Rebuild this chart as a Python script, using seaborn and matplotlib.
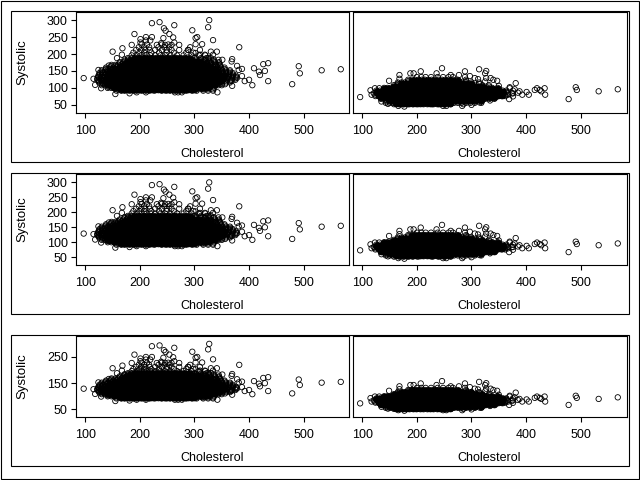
# coding: utf-8
import pandas as pd
import matplotlib
matplotlib.use("Agg")
import matplotlib.pyplot as plt
from matplotlib.patches import Rectangle
import seaborn as sns

# Isolated points, left panels
sparse_chol_sys = [97,150,158,168,167,190,185,201,201,211,211,219,222,222,236,244,247,263,254,261,243,239,296,302,305,327,325,334,382,314,302,310,302,330,341,292,289,263,272,258,246,231,310,319,334,325,344,351,369,368,378,387,381,409,426,435,418,429,420,435,392,400,406,387,378,369,368,342,491,493,479,533,568,155,181,129,118,115,124,143,270,277,264,194,211,301,314,328,356,347,359,124,124,133,143]
sparse_sys = [129,207,188,217,198,259,227,244,234,250,240,240,250,291,294,276,269,285,259,249,247,232,270,247,250,300,279,241,220,229,229,212,203,207,207,220,212,234,227,227,227,227,198,198,198,188,183,183,185,178,165,156,153,158,170,173,148,150,138,120,120,124,108,135,130,106,121,87,164,143,111,152,155,82,84,99,109,127,153,166,87,87,87,87,87,97,97,102,111,119,129,133,123,114,104]

# Isolated points, right panels
sparse_chol_dia = [96,115,123,131,117,149,168,168,188,194,207,246,236,262,277,288,288,314,327,325,327,335,340,347,350,381,370,379,388,393,401,405,416,420,425,434,435,428,478,491,493,533,568,369,376,300,283,254,248,177,166,147,135,334,315,367,376,376,370,385,297,306,312,325]
sparse_dia = [73,93,99,99,80,121,138,127,143,143,149,158,143,138,138,149,132,155,150,143,129,129,124,121,106,114,102,96,90,80,88,80,94,99,94,99,80,90,67,102,94,90,96,67,75,50,47,47,47,45,47,53,60,63,57,80,84,92,99,86,135,129,126,119]

# Dense cloud, cholesterol values read along each systolic level
chol_s92 = [157,166,172,181,188,194,203,211,217,226,240,248,255,263,270,279,285,296,304,316,325,334]
chol_s100 = [141,148,153,159,165,170,176,182,187,193,199,204,210,216,221,227,233,238,244,249,255,261,266,272,277,283,289,294,300,306,311,317,323,328,336]
chol_s108 = [130,136,142,147,153,158,164,169,175,181,186,192,197,203,209,214,220,225,231,237,242,248,253,259,265,270,276,281,287,293,298,304,309,315,321,326,332,337,344,350]
chol_s116 = [125,131,137,143,148,154,160,165,171,176,182,188,193,199,204,210,216,221,227,232,238,244,249,255,260,266,272,277,283,288,294,300,305,311,316,322,328,333,339,345,351,358,365]
chol_s124 = [122,128,134,139,145,150,156,162,167,173,178,184,190,195,201,206,212,218,223,229,234,240,246,251,257,262,268,274,279,285,290,296,302,307,313,318,324,330,335,341,347,353,360,368,375]
chol_s132 = [124,130,136,141,147,153,158,164,169,175,181,186,192,197,203,209,214,220,225,231,237,242,248,253,259,265,270,276,281,287,293,298,304,309,315,321,326,332,338,344,350,356,363,370,376]
chol_s140 = [126,132,138,143,149,154,160,166,171,177,182,188,194,199,205,210,216,222,227,233,238,244,250,255,261,266,272,278,283,289,294,300,306,311,317,322,328,334,340,346,352,358,364,370]
chol_s148 = [130,136,141,147,153,158,164,169,175,181,186,192,197,203,209,214,220,225,231,237,242,248,253,259,265,270,276,281,287,293,298,304,309,315,321,326,332,338,344,351,358,365]
chol_s156 = [138,145,151,156,162,167,173,179,184,190,195,201,207,212,218,223,229,235,240,246,251,257,263,268,274,279,285,291,296,302,307,313,319,324,330,336,342,349,355]
chol_s164 = [148,155,160,166,171,177,183,188,194,199,205,211,216,222,227,233,239,244,250,255,261,267,272,278,283,289,295,300,306,311,317,323,328,334,340,347]
chol_s172 = [163,169,175,180,186,192,197,203,208,214,220,225,231,236,242,248,253,259,264,270,276,281,287,292,298,304,310,316,323,330,338,345]
chol_s180 = [172,178,183,189,195,200,206,211,217,223,228,234,239,245,251,256,262,267,273,279,284,290,296,303,311,319,327,335]
chol_s188 = [178,185,191,196,202,208,213,219,224,230,236,241,247,252,258,264,269,275,282,291,300,312,322,330]
chol_s196 = [185,194,203,212,219,228,238,246,256,268,280,295,308,320]
chol_s204 = [188,199,208,221,235,249,262,285,298]
chol_s212 = [193,203,210,218,228,240,249,258,272,288]
chol_s220 = [198,208,217,234,245,254]
chol_s228 = [203,213,240,252]

sys_levels = [92,100,108,116,124,132,140,148,156,164,172,180,188,196,204,212,220,228,
              96,104,112,120,128,136,144,152,160,168,176,184]
sys_rows = [chol_s92,chol_s100,chol_s108,chol_s116,chol_s124,chol_s132,chol_s140,chol_s148,chol_s156,chol_s164,chol_s172,chol_s180,chol_s188,chol_s196,chol_s204,chol_s212,chol_s220,chol_s228,
            chol_s92,chol_s100,chol_s108,chol_s116,chol_s124,chol_s132,chol_s140,chol_s148,chol_s156,chol_s164,chol_s172,chol_s180]

# Where the left cloud is solid black: level, and cholesterol from/to, the marks overlap there
sys_solid_levels = [96,104,112,120,128,136,144,152,160,168,176,184]
sys_solid_from = [165,150,140,135,135,138,142,150,160,170,178,188]
sys_solid_to = [300,325,340,350,355,352,345,340,330,320,310,295]
sys_solid_rows = [chol_s100,chol_s100,chol_s108,chol_s116,chol_s124,chol_s132,chol_s140,chol_s148,chol_s156,chol_s164,chol_s172,chol_s180]

# Dense cloud, cholesterol values read along each diastolic level
chol_d52 = [158,168,176,184,192,202,228,240,250,262,285]
chol_d60 = [143,150,156,162,168,174,180,186,192,198,205,212,218,224,230,236,242,248,254,260,268,275,282,290,298,306,318]
chol_d68 = [134,140,146,151,157,163,168,174,180,185,191,197,202,208,214,219,225,231,236,242,248,253,259,265,270,276,282,287,293,299,305,311,318,325,333,342]
chol_d76 = [124,130,136,141,147,153,158,164,170,175,181,187,192,198,204,209,215,221,226,232,238,243,249,255,260,266,272,277,283,289,294,300,306,311,317,323,329,335,341,348,355,362]
chol_d84 = [121,127,133,138,144,150,155,161,167,172,178,184,189,195,201,206,212,218,223,229,235,240,246,252,257,263,269,274,280,286,291,297,303,308,314,320,326,332,338,344,351,358,366,374]
chol_d92 = [126,132,138,143,149,155,160,166,172,177,183,189,194,200,206,211,217,223,228,234,240,245,251,257,262,268,274,279,285,291,296,302,308,313,319,325,331,337,343,350,357,364]
chol_d100 = [140,146,152,157,163,169,174,180,186,191,197,203,208,214,220,225,231,237,242,248,254,259,265,271,276,282,288,293,299,305,311,317,323,330,338,348]
chol_d108 = [158,164,170,175,181,187,192,198,204,209,215,221,226,232,238,243,249,255,260,266,272,277,283,289,295,302,310,320,332]
chol_d116 = [165,172,178,184,190,196,201,207,213,218,224,230,235,241,247,252,258,264,270,276,282,290,300,314]
chol_d124 = [184,191,197,203,209,215,221,227,233,240,246,252,258,266,275,290]
chol_d132 = [200,208,216,226,238,248,258,266]

dia_levels = [52,60,68,76,84,92,100,108,116,124,132,
              56,64,72,80,88,96,104,112,120]
dia_rows = [chol_d52,chol_d60,chol_d68,chol_d76,chol_d84,chol_d92,chol_d100,chol_d108,chol_d116,chol_d124,chol_d132,
            chol_d60,chol_d60,chol_d68,chol_d76,chol_d92,chol_d100,chol_d108,chol_d116,chol_d124]

# Where the right cloud is solid black
dia_solid_levels = [56,64,72,80,88,96,104,112,120]
dia_solid_from = [160,145,130,125,125,135,155,170,190]
dia_solid_to = [260,325,345,360,360,350,330,310,285]
dia_solid_rows = [chol_d60,chol_d60,chol_d68,chol_d76,chol_d92,chol_d100,chol_d108,chol_d116,chol_d124]

x_ticks = [100, 200, 300, 400, 500]
y_ticks_rows = [[50, 100, 150, 200, 250, 300], [50, 100, 150, 200, 250, 300], [50, 150, 250]]
y_lims = [(26, 324), (24, 328), (21, 330)]

W, H = 640, 480
AX_TOPS = [12, 174, 336]
AX_BOTTOMS = [113, 265, 417]
BOX_TOPS = [11, 173, 335]
BOX_BOTTOMS = [162, 314, 466]


def build_frame(levels, rows, sparse_x, sparse_y):
    xs = list(sparse_x)
    ys = list(sparse_y)
    for level, row in zip(levels, rows):
        xs += row
        ys += [level] * len(row)
    return pd.DataFrame({"chol": xs, "value": ys})


def build_solid(levels, rows, lows, highs):
    xs = []
    ys = []
    for level, row, lo, hi in zip(levels, rows, lows, highs):
        kept = [c for c in row if lo <= c <= hi]
        xs += kept
        ys += [level] * len(kept)
    return pd.DataFrame({"chol": xs, "value": ys})


def px_axes(fig, left, right, top, bottom):
    return fig.add_axes([left / W, 1 - bottom / H, (right - left) / W, (bottom - top) / H])


def px_box(fig, left, right, top, bottom):
    fig.add_artist(Rectangle((left / W, 1 - bottom / H), (right - left) / W, (bottom - top) / H,
                             transform=fig.transFigure, fill=False, edgecolor="black", linewidth=0.8))


sns.set_style("white")
plt.rcParams["font.family"] = ["Liberation Sans", "DejaVu Sans"]
plt.rcParams["font.size"] = 9
plt.rcParams["text.color"] = "black"
plt.rcParams["axes.labelcolor"] = "black"
plt.rcParams["xtick.labelcolor"] = "black"
plt.rcParams["ytick.labelcolor"] = "black"

df_sys = build_frame(sys_levels, sys_rows, sparse_chol_sys, sparse_sys)
df_dia = build_frame(dia_levels, dia_rows, sparse_chol_dia, sparse_dia)
solid_sys = build_solid(sys_solid_levels, sys_solid_rows, sys_solid_from, sys_solid_to)
solid_dia = build_solid(dia_solid_levels, dia_solid_rows, dia_solid_from, dia_solid_to)

fig = plt.figure(figsize=(6.4, 4.8), dpi=100, facecolor="white")
px_box(fig, 0.5, 638.5, 0.5, 478.5)


def draw_panel(ax, df, solid, ylim, yticks, show_y):
    sns.scatterplot(data=df, x="chol", y="value", ax=ax, marker="o", s=15, facecolor="none",
                    edgecolor="black", linewidth=0.6, legend=False, clip_on=True)
    sns.scatterplot(data=solid, x="chol", y="value", ax=ax, marker="o", s=24, color="black",
                    edgecolor="black", linewidth=0.6, legend=False, clip_on=True)
    ax.set_xlim(82, 584)
    ax.set_ylim(*ylim)
    ax.set_xticks(x_ticks)
    ax.set_xlabel("Cholesterol", fontsize=9, labelpad=8)
    ax.tick_params(axis="x", bottom=True, length=3.6, width=0.8, labelsize=9, pad=5, color="black")
    if show_y:
        ax.set_yticks(yticks)
        ax.set_ylabel("Systolic", fontsize=9.5)
        ax.tick_params(axis="y", left=True, length=3.6, width=0.8, labelsize=9, pad=2, color="black")
    else:
        ax.set_yticks([])
        ax.set_ylabel("")
    for spine in ax.spines.values():
        spine.set_linewidth(0.8)
        spine.set_color("black")


for i in range(3):
    px_box(fig, 11, 629, BOX_TOPS[i], BOX_BOTTOMS[i])
    ax_left = px_axes(fig, 75.5, 349.5, AX_TOPS[i], AX_BOTTOMS[i])
    ax_right = px_axes(fig, 352.5, 626.5, AX_TOPS[i], AX_BOTTOMS[i])
    draw_panel(ax_left, df_sys, solid_sys, y_lims[i], y_ticks_rows[i], True)
    draw_panel(ax_right, df_dia, solid_dia, y_lims[i], y_ticks_rows[i], False)
    ax_left.yaxis.set_label_coords(-0.172, 0.5)

fig.savefig("out.png", dpi=100)
